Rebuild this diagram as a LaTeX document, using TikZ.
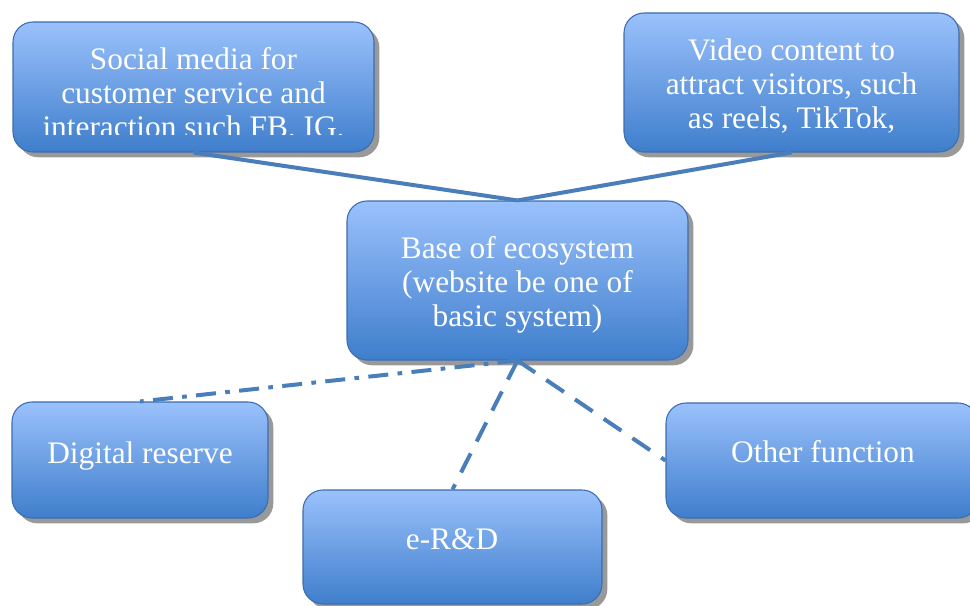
\documentclass[tikz,border=0pt]{standalone}
\usepackage{fontspec}
\setmainfont{Liberation Serif}
\usetikzlibrary{shadows}

\definecolor{boxtop}{HTML}{9AC1FC}
\definecolor{boxbot}{HTML}{3F7ECC}
\definecolor{boxline}{HTML}{3C6DAE}
\definecolor{linkblue}{HTML}{4A7EBB}

\tikzset{
	blockbox/.style={draw=boxline, line width=0.8pt, rounded corners=15pt,
		top color=boxtop, bottom color=boxbot,
		drop shadow={shadow xshift=4pt, shadow yshift=-4pt, fill=black, opacity=0.4}},
	blocktext/.style={text=white, align=center, inner sep=0pt, font=\fontsize{23.5}{25.5}\selectfont},
	link/.style={draw=linkblue, line width=3pt},
	linkdash/.style={link, dash pattern=on 16pt off 10pt},
	linkdashdot/.style={link, dash pattern=on 15pt off 7pt on 3.5pt off 7pt},
}

\begin{document}
\begin{tikzpicture}[x=0.75pt, y=-0.75pt]
			%%%%% START %%%%%
			\useasboundingbox (0,0) rectangle (970,606);
			
			% boxes
			\node[blockbox, minimum width=270.75pt, minimum height=97.5pt] (social) at (193.5,87) {};
			\node[blockbox, minimum width=251.25pt, minimum height=104.25pt] (video) at (791.5,82.5) {};
			\node[blockbox, minimum width=255.75pt, minimum height=119.25pt] (base) at (517.5,280.5) {};
			\node[blockbox, minimum width=192pt, minimum height=87pt] (reserve) at (140,460) {};
			\node[blockbox, minimum width=224.25pt, minimum height=85.5pt] (rnd) at (452.5,547) {};
			\node[blockbox, minimum width=234pt, minimum height=86.25pt] (other) at (822,460.5) {};
			
			% texts
			\begin{scope}
				\clip (13,22) rectangle (374,135);
				\node[blocktext] (socialtext) at (193.5,93) {Social media for\\customer service and\\interaction such FB. IG.};
			\end{scope}
			\node[blocktext] (videotext) at (791.5,86) {Video content to\\attract visitors, such\\as reels, TikTok,};
			\node[blocktext] (basetext) at (517.5,285) {Base of ecosystem\\(website be one of\\basic system)};
			\node[blocktext, anchor=base] (reservetext) at (140,463) {Digital reserve};
			\node[blocktext, anchor=base] (rndtext) at (452,549) {e-R\&D};
			\node[blocktext, anchor=base] (othertext) at (823,462) {Other function};
			
			% links
			\draw[link] (social.south) -- (base.north);
			\draw[link] (video.south) -- (base.north);
			\draw[linkdashdot] (base.south) -- (reserve.north);
			\draw[linkdash] (base.south) -- (rnd.north);
			\draw[linkdash] (base.south) -- (other.west);
			%%%%% END %%%%%
\end{tikzpicture}
\end{document}
